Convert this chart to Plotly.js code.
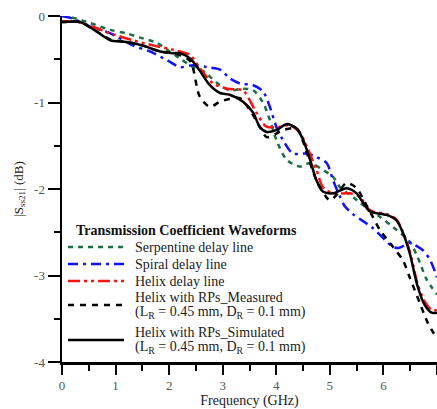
<!DOCTYPE html>
<html><head><meta charset="utf-8">
<script src="https://cdn.plot.ly/plotly-3.0.1.min.js"></script>
<style>html,body{margin:0;padding:0;background:#fff}#c{width:437px;height:409px}</style>
</head><body><div id="c"></div>
<script>
// Frequency (GHz) and |S21| (dB) per series
const serpX = [0, 0.2, 0.52, 0.9, 1.2, 1.46, 1.77, 1.96, 2.2, 2.39, 2.7, 2.76, 2.95, 3.13, 3.38, 3.57, 3.75, 3.88, 4.0, 4.19, 4.44, 4.63, 4.87, 5.06, 5.19, 5.43, 5.56, 5.93, 6.18, 6.49, 6.64, 6.81, 7.0];
const serpY = [0, -0.02, -0.08, -0.16, -0.2, -0.25, -0.31, -0.39, -0.49, -0.57, -0.66, -0.7, -0.8, -0.86, -0.84, -0.86, -1.0, -1.2, -1.43, -1.66, -1.74, -1.7, -1.78, -1.86, -1.98, -2.09, -2.16, -2.32, -2.44, -2.61, -2.79, -3.05, -3.22];

const spirX = [0, 0.2, 0.52, 0.9, 1.32, 1.64, 1.96, 2.2, 2.44, 2.7, 2.95, 3.13, 3.32, 3.57, 3.75, 3.88, 4.0, 4.12, 4.31, 4.57, 4.75, 4.94, 5.06, 5.19, 5.28, 5.43, 5.8, 6.18, 6.3, 6.49, 6.59, 6.74, 6.87, 7.0];
const spirY = [0, -0.03, -0.12, -0.2, -0.34, -0.41, -0.51, -0.59, -0.57, -0.59, -0.62, -0.72, -0.78, -0.8, -0.87, -1.05, -1.28, -1.43, -1.59, -1.59, -1.63, -1.7, -1.9, -2.09, -2.2, -2.29, -2.45, -2.67, -2.68, -2.62, -2.65, -2.71, -2.82, -3.02];

const helixX = [0, 0.3, 0.6, 0.9, 1.32, 1.7, 2.07, 2.39, 2.57, 2.82, 3.08, 3.38, 3.5, 3.63, 3.82, 4.07, 4.25, 4.44, 4.57, 4.75, 4.87, 5.06, 5.37, 5.56, 5.75, 6.06, 6.24, 6.36, 6.49, 6.64, 6.77, 6.9, 7.0];
const helixY = [-0.06, -0.07, -0.13, -0.2, -0.28, -0.34, -0.39, -0.45, -0.6, -0.78, -0.84, -0.86, -0.97, -1.12, -1.28, -1.28, -1.26, -1.35, -1.51, -1.78, -1.98, -2.05, -2.05, -2.09, -2.25, -2.29, -2.35, -2.49, -2.72, -3.1, -3.3, -3.4, -3.4];

const measX = [0, 0.34, 0.6, 0.9, 1.2, 1.5, 1.83, 2.1, 2.39, 2.57, 2.76, 2.95, 3.13, 3.32, 3.5, 3.69, 3.82, 4.0, 4.12, 4.38, 4.5, 4.75, 5.0, 5.15, 5.31, 5.5, 5.65, 5.8, 5.93, 6.18, 6.36, 6.49, 6.68, 6.83, 7.0];
const measY = [-0.07, -0.07, -0.16, -0.27, -0.3, -0.34, -0.41, -0.43, -0.52, -0.93, -1.05, -0.99, -0.96, -0.95, -1.08, -1.28, -1.4, -1.36, -1.32, -1.3, -1.45, -1.9, -2.13, -2.05, -1.93, -1.99, -2.15, -2.32, -2.47, -2.67, -2.82, -3.02, -3.32, -3.55, -3.73];

const simX = [0, 0.34, 0.6, 0.9, 1.2, 1.5, 1.83, 2.07, 2.2, 2.39, 2.57, 2.76, 2.95, 3.13, 3.38, 3.57, 3.69, 3.82, 4.0, 4.19, 4.38, 4.5, 4.63, 4.75, 4.87, 5.06, 5.31, 5.5, 5.62, 5.75, 6.06, 6.24, 6.36, 6.49, 6.64, 6.77, 6.9, 7.0];
const simY = [-0.07, -0.07, -0.16, -0.28, -0.3, -0.34, -0.41, -0.43, -0.43, -0.49, -0.63, -0.8, -0.89, -0.91, -0.99, -1.12, -1.28, -1.34, -1.32, -1.25, -1.3, -1.43, -1.66, -1.9, -2.03, -2.05, -1.99, -2.05, -2.16, -2.26, -2.3, -2.36, -2.5, -2.74, -3.13, -3.34, -3.43, -3.43];

const legendTitle = 'Transmission Coefficient Waveforms';
const names = [
  ['Serpentine delay line'],
  ['Spiral delay line'],
  ['Helix delay line'],
  ['Helix with RPs_Measured', '(L<sub>R</sub> = 0.45 mm, D<sub>R</sub> = 0.1 mm)'],
  ['Helix with RPs_Simulated', '(L<sub>R</sub> = 0.45 mm, D<sub>R</sub> = 0.1 mm)']
];
const xTicks = [0, 1, 2, 3, 4, 5, 6, 7];
const yTicks = [0, -1, -2, -3, -4];

const styles = [
  {color: '#1a7040', width: 2.5, dash: '5px,5px'},
  {color: '#1010ff', width: 2.5, dash: '10px,5px,3px,5px'},
  {color: '#ff1010', width: 2.5, dash: '12px,4px,3px,4px,3px,4px'},
  {color: '#000000', width: 2.5, dash: '6px,6px'},
  {color: '#000000', width: 2.5, dash: 'solid'}
];
const series = [[serpX, serpY], [spirX, spirY], [helixX, helixY], [measX, measY], [simX, simY]];

const traces = series.map((s, i) => ({
  type: 'scatter', mode: 'lines', x: s[0], y: s[1], name: names[i].join(' '),
  line: Object.assign({shape: 'spline', smoothing: 0.8}, styles[i])
}));

// manual legend (pixel layout -> paper coords)
const L = 62, W = 375, T = 16, H = 346;
const px = v => (v - L) / W;
const py = v => (T + H - v) / H;
const font = {family: 'Liberation Serif, Times New Roman, serif', color: '#222'};
const rowY = [247, 264, 281, 305, 340];
const textY = [[247], [264], [281], [297, 312], [332, 347]];
const shapes = styles.map((s, i) => ({
  type: 'line', xref: 'paper', yref: 'paper',
  x0: px(68), x1: px(124), y0: py(rowY[i]), y1: py(rowY[i]),
  line: {color: s.color, width: s.width, dash: s.dash}
}));
const annotations = [{
  xref: 'paper', yref: 'paper', x: px(74), y: py(230), xanchor: 'left', yanchor: 'middle',
  showarrow: false, text: '<b>' + legendTitle + '</b>', font: Object.assign({size: 14}, font, {color: '#111'})
}];
names.forEach((lines, i) => lines.forEach((t, j) => annotations.push({
  xref: 'paper', yref: 'paper', x: px(133), y: py(textY[i][j]), xanchor: 'left', yanchor: 'middle',
  showarrow: false, text: t, font: Object.assign({size: 14}, font)
})));

Plotly.newPlot('c', traces, {
  width: 437, height: 409,
  margin: {l: 62, r: 0, t: 16, b: 47},
  paper_bgcolor: '#fff', plot_bgcolor: '#fff',
  font: Object.assign({size: 13}, font),
  showlegend: false,
  shapes: shapes,
  annotations: annotations,
  xaxis: {
    range: [0, 7], tickvals: xTicks, ticktext: xTicks.map(String),
    showgrid: false, zeroline: false, showline: true, linecolor: '#000', linewidth: 2.5,
    ticks: 'outside', ticklen: 10, tickwidth: 2, tickcolor: '#000',
    minor: {dtick: 0.5, ticks: 'outside', ticklen: 6, tickwidth: 2, tickcolor: '#000', showgrid: false},
    tickfont: Object.assign({size: 13}, font, {color: '#555'}),
    title: {text: 'Frequency (GHz)', font: Object.assign({size: 14}, font), standoff: 4}
  },
  yaxis: {
    range: [-4, 0], tickvals: yTicks, ticktext: yTicks.map(String),
    showgrid: false, zeroline: false, showline: true, linecolor: '#000', linewidth: 2.5,
    ticks: 'outside', ticklen: 12, tickwidth: 2, tickcolor: '#000',
    minor: {dtick: 0.5, ticks: 'outside', ticklen: 6, tickwidth: 2, tickcolor: '#000', showgrid: false},
    tickfont: Object.assign({size: 13}, font, {color: '#555'}),
    title: {text: '|S<sub>ss21</sub>| (dB)', font: Object.assign({size: 13}, font), standoff: 8}
  }
}, {displayModeBar: false, staticPlot: true});
</script></body></html>
